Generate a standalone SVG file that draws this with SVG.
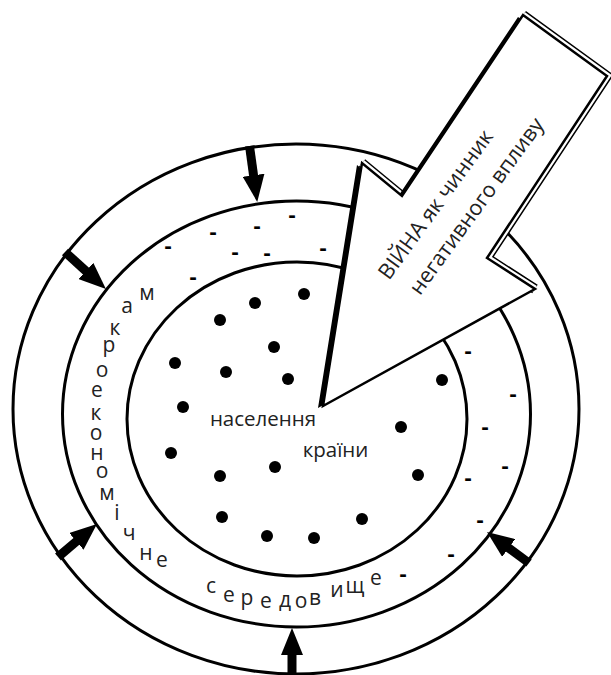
<svg xmlns="http://www.w3.org/2000/svg" width="611" height="675" viewBox="0 0 611 675">
<style>
.ring{fill:none;stroke:#000;stroke-width:3}
.dot{fill:#000}
.t{font-family:"Open Sans","Liberation Sans",sans-serif;fill:#222}
.lt{font-size:21px;text-anchor:middle}
.dash{font-size:22px;text-anchor:middle;fill:#000;font-weight:bold}
.conn{stroke:#000;stroke-width:9;fill:none;marker-end:url(#ah)}
</style>
<defs>
<marker id="ah" markerUnits="userSpaceOnUse" viewBox="-2 0 27 22" markerWidth="27" markerHeight="22" refX="0" refY="11" orient="auto">
<path d="M-2,0 L25,11 L-2,22 z" fill="#000"/>
</marker>
</defs>
<rect width="611" height="675" fill="#fff"/>

<g id="outer-ring">
<ellipse class="ring" cx="296" cy="409" rx="283" ry="265"/>
</g>

<g id="environment">
<ellipse class="ring" cx="296.5" cy="414" rx="234" ry="213"/>
<g class="t lt">
<text x="147" y="300">м</text>
<text x="127" y="313">а</text>
<text x="115" y="335">к</text>
<text x="109" y="352">р</text>
<text x="102" y="377">о</text>
<text x="97" y="397">е</text>
<text x="96" y="420">к</text>
<text x="96" y="440">о</text>
<text x="97" y="460">н</text>
<text x="102" y="478">о</text>
<text x="107" y="500">м</text>
<text x="117" y="520">і</text>
<text x="129" y="540">ч</text>
<text x="146" y="560">н</text>
<text x="162" y="567">е</text>
<text x="211" y="593">с</text>
<text x="229" y="602">е</text>
<text x="247" y="605">р</text>
<text x="266" y="608">е</text>
<text x="285" y="607">д</text>
<text x="301" y="608">о</text>
<text x="315" y="605">в</text>
<text x="337" y="597">и</text>
<text x="355" y="593">щ</text>
<text x="376" y="585">е</text>
</g>
<g class="t dash">
<text x="292" y="222">-</text>
<text x="257" y="233">-</text>
<text x="213" y="239">-</text>
<text x="168" y="253">-</text>
<text x="235" y="259">-</text>
<text x="267" y="260">-</text>
<text x="323" y="255">-</text>
<text x="193" y="284">-</text>
<text x="468" y="358">-</text>
<text x="513" y="401">-</text>
<text x="485" y="434">-</text>
<text x="505" y="473">-</text>
<text x="468" y="485">-</text>
<text x="480" y="527">-</text>
<text x="451" y="561">-</text>
<text x="403" y="581">-</text>
</g>
</g>

<g id="population">
<ellipse class="ring" cx="297" cy="419" rx="170" ry="157"/>
<g class="dot">
<circle cx="304" cy="294" r="6"/>
<circle cx="255" cy="303" r="6"/>
<circle cx="220" cy="320" r="6"/>
<circle cx="274" cy="347" r="6"/>
<circle cx="175" cy="363" r="6"/>
<circle cx="226" cy="372" r="6"/>
<circle cx="288" cy="379" r="6"/>
<circle cx="183" cy="407" r="6"/>
<circle cx="442" cy="380" r="6"/>
<circle cx="401" cy="427" r="6"/>
<circle cx="171" cy="453" r="6"/>
<circle cx="275" cy="467" r="6"/>
<circle cx="220" cy="476" r="6"/>
<circle cx="418" cy="475" r="6"/>
<circle cx="222" cy="517" r="6"/>
<circle cx="362" cy="519" r="6"/>
<circle cx="267" cy="536" r="6"/>
<circle cx="314" cy="538" r="6"/>
</g>
<text class="t" x="263" y="426" font-size="20.5" text-anchor="middle">населення</text>
<text class="t" x="335.5" y="457" font-size="20.5" text-anchor="middle">країни</text>
</g>

<g id="connectors">
<line class="conn" x1="249.5" y1="146" x2="253.8" y2="177.2"/>
<line class="conn" x1="65" y1="252" x2="87.4" y2="272.3"/>
<line class="conn" x1="58" y1="557" x2="77.9" y2="540.1"/>
<line class="conn" x1="292" y1="678" x2="292" y2="653"/>
<line class="conn" x1="529" y1="563" x2="507.1" y2="546.8"/>
</g>

<g id="war-arrow">
<polyline points="362,163 402,196" fill="none" stroke="#000" stroke-width="10" stroke-linejoin="miter"/>
<polyline points="523,15 607,76 487,258 535,289" fill="none" stroke="#000" stroke-width="10" stroke-linejoin="miter"/>
<polyline points="362,163 402,196" fill="none" stroke="#fff" stroke-width="7" stroke-linejoin="miter"/>
<polyline points="523,15 607,76 487,258 535,289" fill="none" stroke="#fff" stroke-width="7" stroke-linejoin="miter"/>
<polygon points="323,406 362,163 402,196 523,15 607,76 487,258 535,289" fill="#000" transform="translate(-5,2)"/>
<polygon points="323,406 362,163 402,196 523,15 607,76 487,258 535,289" fill="#fff" stroke="#000" stroke-width="2.5" stroke-linejoin="miter"/>
<g class="t" font-size="21.5" transform="translate(389,281) rotate(-54)">
<text x="0" y="0">ВІЙНА як чинник</text>
<text x="6" y="34">негативного впливу</text>
</g>
</g>
</svg>
